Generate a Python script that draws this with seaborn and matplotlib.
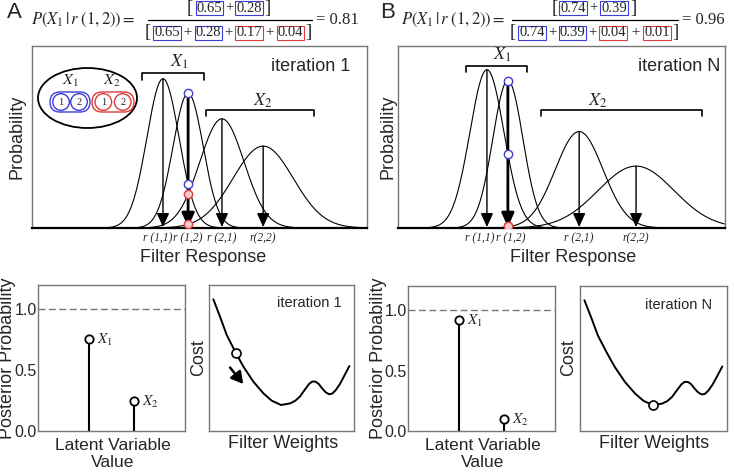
import numpy as np
import pandas as pd
import matplotlib
matplotlib.use('Agg')
import matplotlib.pyplot as plt
import seaborn as sns
from matplotlib.patches import Ellipse, Circle, FancyBboxPatch

sns.set_style('white')
plt.rcParams['font.family'] = ['Liberation Sans', 'DejaVu Sans']
plt.rcParams['mathtext.fontset'] = 'stix'

# ---- data ----
resp_labels = ['r (1,1)', 'r (1,2)', 'r (2,1)', 'r(2,2)']
# iteration 1 : gaussian centre / width / peak (filter response, 0-10 scale)
a_centers = [3.91, 4.66, 5.67, 6.90]
a_sigmas = [0.48, 0.45, 0.66, 0.90]
a_peaks = [0.82, 0.74, 0.60, 0.45]
a_label_pos = [3.76, 4.66, 5.67, 6.90]
# iteration N
b_centers = [2.72, 3.36, 5.54, 7.28]
b_sigmas = [0.52, 0.46, 0.73, 1.16]
b_peaks = [0.87, 0.81, 0.53, 0.34]
b_label_pos = [2.49, 3.46, 5.54, 7.28]

a_num = ['0.65', '0.28']
a_den = ['0.65', '0.28', '0.17', '0.04']
a_result = '0.81'
b_num = ['0.74', '0.39']
b_den = ['0.74', '0.39', '0.04', '0.01']
b_result = '0.96'

latent_labels = [r'$X_{\mathit{1}}$', r'$X_{\mathit{2}}$']
a_post = [0.76, 0.25]
b_post = [0.92, 0.10]

# cost landscape (filter weights vs cost, both 0-1)
cost_w = [0.03, 0.076, 0.122, 0.184, 0.237, 0.306, 0.375, 0.432, 0.497, 0.559,
          0.595, 0.628, 0.66, 0.69, 0.712, 0.735, 0.757, 0.78, 0.805, 0.828,
          0.85, 0.875, 0.903, 0.935, 0.968]
cost_c = [0.902, 0.783, 0.658, 0.537, 0.441, 0.338, 0.258, 0.208, 0.178, 0.189,
          0.207, 0.237, 0.282, 0.322, 0.339, 0.338, 0.322, 0.292, 0.265, 0.252,
          0.256, 0.281, 0.322, 0.382, 0.445]
a_cost_pt = 3
b_cost_pt = 8

BLUE = '#3d3dd6'
RED = '#e03a3a'
GRAY = '#777777'
SERIF = ['Liberation Serif', 'DejaVu Serif']

W, H = 734, 472
fig = plt.figure(figsize=(W / 100, H / 100), dpi=100)


def px(x, y):
    return x / W, 1 - y / H


def rect(x0, x1, y0, y1):
    # pixel box -> figure fraction [left, bottom, width, height]
    return [x0 / W, 1 - y1 / H, (x1 - x0) / W, (y1 - y0) / H]


def gauss(x, c, s, h):
    return h * np.exp(-0.5 * ((x - c) / s) ** 2)


def top_panel(ax, centers, sigmas, peaks, label_pos, brackets):
    x = np.linspace(0, 10, 600)
    df = pd.concat([pd.DataFrame({'resp': x, 'prob': gauss(x, c, s, h), 'curve': i})
                    for i, (c, s, h) in enumerate(zip(centers, sigmas, peaks))])
    sns.lineplot(data=df, x='resp', y='prob', units='curve', estimator=None,
                 color='k', lw=0.8, ax=ax, legend=False)
    for i, (c, h) in enumerate(zip(centers, peaks)):
        ax.annotate('', xy=(c, 0.005), xytext=(c, h),
                    arrowprops=dict(arrowstyle='-|>,head_length=0.6,head_width=0.27',
                                    mutation_scale=14, lw=2.0 if i == 1 else 1.0,
                                    color='k', shrinkA=0, shrinkB=0))
    # responses of every curve at r(1,2)
    c12 = centers[1]
    vals = [gauss(c12, c, s, h) for c, s, h in zip(centers, sigmas, peaks)]
    for j, v in enumerate(vals):
        col = BLUE if j < 2 else RED
        fc = 'white' if j < 2 else '#f6caca'
        ax.plot(c12, max(v, 0.012), 'o', ms=6, mfc=fc, mec=col, mew=1.0, zorder=5)
    for x0, x1, y, lab, lx, ly in brackets:
        ax.plot([x0, x0, x1, x1], [y - 0.035, y, y, y - 0.035], color='k', lw=1.2)
        ax.text(lx, ly, lab, ha='center', va='center', fontsize=13)
    ax.set_xlim(0, 10)
    ax.set_ylim(0, 1)
    ax.set_xticks(label_pos, resp_labels)
    for t in ax.get_xticklabels():
        t.set_fontfamily(SERIF)
        t.set_fontstyle('italic')
        t.set_fontsize(8.3)
    ax.set_yticks([])
    ax.tick_params(axis='x', length=0, pad=3)
    ax.set_xlabel('')
    ax.set_ylabel('')
    for sp in ax.spines.values():
        sp.set_color(GRAY)
        sp.set_linewidth(1.0)
    ax.spines['bottom'].set_color('k')
    ax.spines['bottom'].set_linewidth(1.6)


def post_panel(ax, vals):
    pos = [1, 2]
    ax.vlines(pos, 0, vals, color='k', lw=1.5)
    sns.scatterplot(x=pos, y=vals, ax=ax, s=36, color='white', edgecolor='k',
                    linewidth=1.3, zorder=3)
    ax.axhline(1.0, ls=(0, (5, 2.5)), color=GRAY, lw=1)
    for p, v, lab in zip(pos, vals, latent_labels):
        ax.annotate(lab, (p, v), xytext=(6, -1), textcoords='offset points',
                    va='center', ha='left', fontsize=11)
    ax.set_xlim(-0.13, 3.13)
    ax.set_ylim(0, 1.2)
    ax.set_xticks([])
    ax.set_yticks([0, 0.5, 1.0], ['0.0', '0.5', '1.0'])
    ax.tick_params(axis='y', length=0, pad=1, labelsize=11.5)
    for sp in ax.spines.values():
        sp.set_color(GRAY)
        sp.set_linewidth(1.0)


def cost_panel(ax, idx, label, lx, ly, arrow=False):
    sns.lineplot(x=cost_w, y=cost_c, color='k', lw=1.4, ax=ax, sort=False)
    ax.plot(cost_w[idx], cost_c[idx], 'o', ms=6.5, mfc='white', mec='k', mew=1.2, zorder=5)
    if arrow:
        ax.annotate('', xy=(0.236, 0.322), xytext=(0.145, 0.435),
                    arrowprops=dict(arrowstyle='-|>,head_length=0.5,head_width=0.28',
                                    mutation_scale=14, lw=1.8, color='k',
                                    shrinkA=0, shrinkB=0))
    ax.text(lx, ly, label, transform=ax.transAxes, ha='right', va='center', fontsize=10.5)
    ax.set_xlim(0, 1)
    ax.set_ylim(0, 1)
    ax.set_xticks([])
    ax.set_yticks([])
    for sp in ax.spines.values():
        sp.set_color(GRAY)
        sp.set_linewidth(1.0)


def equation(x_p, x_res, num_pos, den_pos, line, num, den, res):
    fig.text(*px(x_p, 20), r'$P\left(X_{\mathit{1}}\,|\,r\;(\mathit{1},2)\right)=$',
             ha='center', va='center', fontsize=12)
    y_n, y_d = 8, 33
    for (xb, xs), y, vals in [(num_pos, y_n, num), (den_pos, y_d, den)]:
        fig.text(*px(xb[0], y), '[', ha='center', va='center', fontsize=13.5, fontfamily=SERIF)
        fig.text(*px(xb[1], y), ']', ha='center', va='center', fontsize=13.5, fontfamily=SERIF)
        for i, (xc, v) in enumerate(zip(xs, vals)):
            col = BLUE if i < 2 else RED
            fig.text(*px(xc, y), v, ha='center', va='center', fontsize=10.5, fontfamily=SERIF,
                     bbox=dict(boxstyle='square,pad=0.06', fc='white', ec=col, lw=0.8))
            if i > 0:
                fig.text(*px((xc + xs[i - 1]) / 2, y), '+', ha='center', va='center',
                         fontsize=10.5, fontfamily=SERIF)
    fig.add_artist(plt.Line2D([line[0] / W, line[1] / W], [1 - 20 / H, 1 - 20 / H],
                              color='k', lw=0.9))
    fig.text(*px(x_res, 20), '= ' + res, ha='center', va='center', fontsize=12,
             fontfamily=SERIF)


# ---- top panels ----
axA = fig.add_axes(rect(32, 367, 46, 228))
top_panel(axA, a_centers, a_sigmas, a_peaks, a_label_pos,
          [(3.28, 5.13, 0.85, r'$X_{\mathit{1}}$', 4.4, 0.915),
           (5.19, 8.42, 0.65, r'$X_{\mathit{2}}$', 6.9, 0.70)])
axA.text(0.95, 0.885, 'iteration 1', transform=axA.transAxes, ha='right', va='center',
         fontsize=13)

axB = fig.add_axes(rect(398, 725, 46, 228))
top_panel(axB, b_centers, b_sigmas, b_peaks, b_label_pos,
          [(2.08, 3.94, 0.89, r'$X_{\mathit{1}}$', 3.18, 0.95),
           (4.37, 9.30, 0.65, r'$X_{\mathit{2}}$', 6.12, 0.70)])
axB.text(0.985, 0.885, 'iteration N', transform=axB.transAxes, ha='right', va='center',
         fontsize=13)

# inset with the latent variable groups
ins = fig.add_axes(rect(34, 140, 64, 132))
ins.set_xlim(34, 140)
ins.set_ylim(132, 64)
ins.axis('off')
ins.add_patch(Ellipse((87.5, 98), 99, 60, fc='white', ec='k', lw=1.3))
for x0, x1, cs, col in [(50, 90, (61, 79), BLUE), (92, 134, (103.3, 122.7), RED)]:
    ins.add_patch(FancyBboxPatch((x0, 92), x1 - x0, 20,
                                 boxstyle='round,pad=0,rounding_size=10',
                                 fc='none', ec=col, lw=1.0))
    for k, cx in enumerate(cs):
        ins.add_patch(Circle((cx, 102), 8.3, fc='none', ec=col, lw=1.0))
        ins.text(cx, 102.5, str(k + 1), ha='center', va='center', fontsize=7.5,
                 fontfamily=SERIF)
ins.text(70, 81, r'$X_{\mathit{1}}$', ha='center', va='center', fontsize=11.5)
ins.text(112, 81, r'$X_{\mathit{2}}$', ha='center', va='center', fontsize=11.5)

# ---- bottom panels ----
axA1 = fig.add_axes(rect(38, 185, 285, 431))
post_panel(axA1, a_post)
axA2 = fig.add_axes(rect(209, 354, 285, 431))
cost_panel(axA2, a_cost_pt, 'iteration 1', 0.917, 0.877, arrow=True)
axB1 = fig.add_axes(rect(408, 555, 286, 431))
post_panel(axB1, b_post)
axB2 = fig.add_axes(rect(580, 727, 286, 431))
cost_panel(axB2, b_cost_pt, 'iteration N', 0.898, 0.87)

# ---- labels ----
lab = dict(ha='center', va='center', fontsize=13)
fig.text(*px(17, 137), 'Probability', rotation=90, **lab)
fig.text(*px(388, 137), 'Probability', rotation=90, **lab)
fig.text(*px(203, 258), 'Filter Response', **lab)
fig.text(*px(573, 258), 'Filter Response', **lab)
fig.text(*px(8, 358), 'Posterior Probability', rotation=90, **lab)
fig.text(*px(378, 358), 'Posterior Probability', rotation=90, **lab)
fig.text(*px(113, 454), 'Latent Variable\nValue', ha='center', va='center', fontsize=12.5,
         linespacing=1.15)
fig.text(*px(483, 454), 'Latent Variable\nValue', ha='center', va='center', fontsize=12.5,
         linespacing=1.15)
fig.text(*px(199, 358), 'Cost', rotation=90, **lab)
fig.text(*px(569, 358), 'Cost', rotation=90, **lab)
fig.text(*px(283, 444), 'Filter Weights', **lab)
fig.text(*px(654, 444), 'Filter Weights', **lab)
fig.text(*px(14, 13), 'A', ha='center', va='center', fontsize=16)
fig.text(*px(388, 13), 'B', ha='center', va='center', fontsize=16)

# ---- equations ----
equation(83, 337.5, ((190, 267), (209.5, 249)), ((148, 308), (167, 208.5, 249, 290.5)),
         (148, 312), a_num, a_den, a_result)
equation(453, 703, ((555, 633), (573, 614)), ((513, 675), (532, 572.5, 613, 657)),
         (512, 678), b_num, b_den, b_result)

fig.savefig('out.png', dpi=100)
